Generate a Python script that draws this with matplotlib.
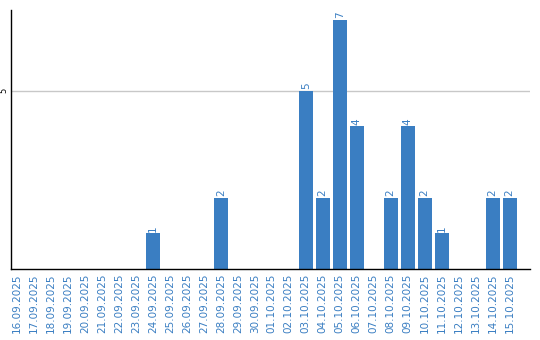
import matplotlib
matplotlib.use("Agg")
import matplotlib.pyplot as plt

dates = ["16.09.2025", "17.09.2025", "18.09.2025", "19.09.2025", "20.09.2025",
         "21.09.2025", "22.09.2025", "23.09.2025", "24.09.2025", "25.09.2025",
         "26.09.2025", "27.09.2025", "28.09.2025", "29.09.2025", "30.09.2025",
         "01.10.2025", "02.10.2025", "03.10.2025", "04.10.2025", "05.10.2025",
         "06.10.2025", "07.10.2025", "08.10.2025", "09.10.2025", "10.10.2025",
         "11.10.2025", "12.10.2025", "13.10.2025", "14.10.2025", "15.10.2025"]
counts = [0, 0, 0, 0, 0, 0, 0, 0, 1, 0,
          0, 0, 2, 0, 0, 0, 0, 5, 2, 7,
          4, 0, 2, 4, 2, 1, 0, 0, 2, 2]

blue = "#3a7ec2"

fig = plt.figure(figsize=(5.4, 3.4), dpi=100)
ax = fig.add_axes([11 / 540, 1 - 269 / 340, 519 / 540, 259 / 340])

x = list(range(len(dates)))
ax.bar(x, counts, width=0.82, color=blue, zorder=2)
for xi, c in zip(x, counts):
    if c > 0:
        ax.text(xi, c + 0.04, str(c), rotation=90, ha="center", va="bottom",
                fontsize=7.5, color=blue)

ax.set_xlim(-0.35, 30.2)
ax.set_ylim(0, 7.27)
ax.set_yticks([5])
ax.set_yticklabels(["5"], rotation=90, va="center", fontsize=6)
ax.yaxis.grid(True, color="#c8c8c8", linewidth=1, zorder=0)
ax.set_xticks(x)
ax.set_xticklabels(dates, rotation=90, fontsize=7.5, color=blue)
ax.tick_params(axis="both", length=0, pad=3)
ax.tick_params(axis="y", pad=2)
for s in ["top", "right"]:
    ax.spines[s].set_visible(False)
for s in ["left", "bottom"]:
    ax.spines[s].set_linewidth(1.0)
    ax.spines[s].set_color("black")

fig.savefig("out.png", dpi=100)
